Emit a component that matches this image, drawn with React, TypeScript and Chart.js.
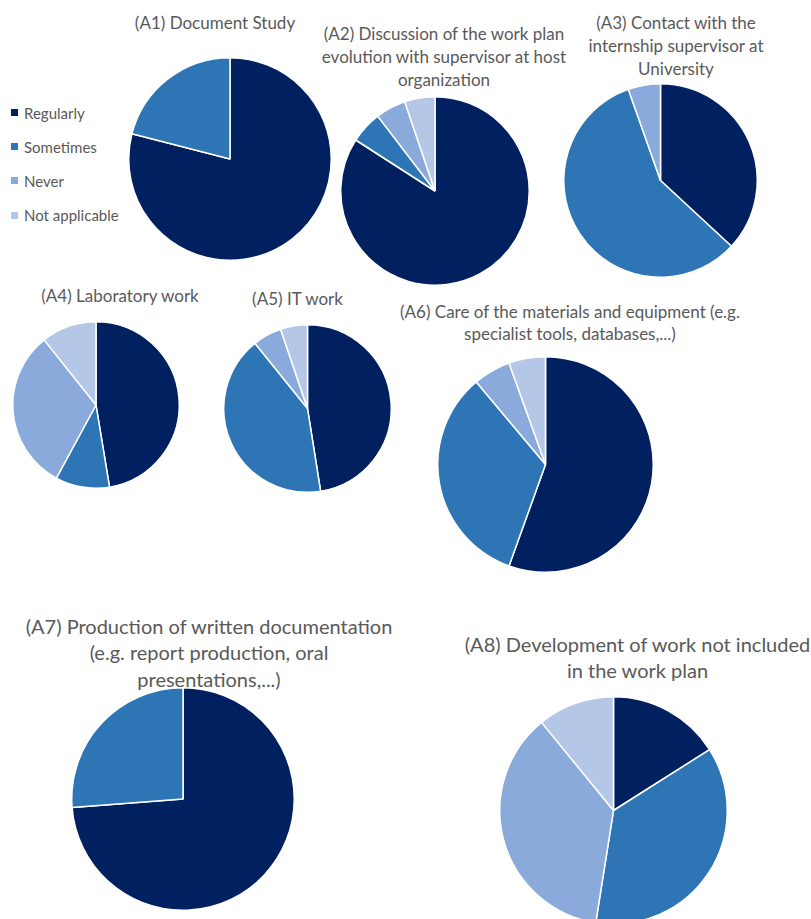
import React, { useEffect, useRef } from "react";
import { Chart, registerables } from "chart.js";

Chart.register(...registerables);

const categories = ["Regularly", "Sometimes", "Never", "Not applicable"];
const colors = ["#002060", "#2E75B6", "#8AAADC", "#B4C7E7"];

const a1Values = [79, 21, 0, 0];
const a2Values = [84.1, 5.5, 5.2, 5.2];
const a3Values = [36.9, 57.7, 5.4, 0];
const a4Values = [47.4, 10.5, 31.4, 10.7];
const a5Values = [47.5, 41.7, 5.6, 5.2];
const a6Values = [55.5, 33.4, 5.6, 5.5];
const a7Values = [73.8, 26.2, 0, 0];
const a8Values = [16.0, 36.5, 36.6, 10.9];

const a1Title = ["(A1) Document Study"];
const a2Title = ["(A2) Discussion of the work plan", "evolution with supervisor at host", "organization"];
const a3Title = ["(A3) Contact with the", "internship supervisor at", "University"];
const a4Title = ["(A4) Laboratory work"];
const a5Title = ["(A5) IT work"];
const a6Title = ["(A6) Care of the materials and equipment (e.g.", "specialist tools, databases,...)"];
const a7Title = ["(A7) Production of written documentation", "(e.g. report production, oral", "presentations,...)"];
const a8Title = ["(A8) Development of work not included", "in the work plan"];

const FONT = "Lato, 'Open Sans', sans-serif";
const TEXT_COLOR = "#595959";

function Pie({ values, cx, cy, r }: { values: number[]; cx: number; cy: number; r: number }) {
  const ref = useRef<HTMLCanvasElement | null>(null);
  const size = Math.round(2 * r + 2);
  useEffect(() => {
    if (!ref.current) return;
    const chart = new Chart(ref.current, {
      type: "pie",
      data: {
        labels: categories,
        datasets: [
          {
            data: values,
            backgroundColor: colors,
            borderColor: "#ffffff",
            borderWidth: 1.5,
            hoverOffset: 0,
          },
        ],
      },
      options: {
        responsive: false,
        animation: false,
        layout: { padding: 0 },
        plugins: {
          legend: { display: false },
          title: { display: false },
          tooltip: { enabled: false },
        },
      },
    });
    return () => chart.destroy();
  }, []);
  return (
    <canvas
      ref={ref}
      width={size}
      height={size}
      style={{ position: "absolute", left: cx - size / 2, top: cy - size / 2, width: size, height: size }}
    />
  );
}

function Title({ lines, cx, y, size, lh }: { lines: string[]; cx: number; y: number; size: number; lh: number }) {
  return (
    <div
      style={{
        position: "absolute",
        left: cx - 250,
        width: 500,
        top: y - lh / 2,
        textAlign: "center",
        fontFamily: FONT,
        fontSize: size,
        lineHeight: lh + "px",
        color: TEXT_COLOR,
        whiteSpace: "nowrap",
      }}
    >
      {lines.map((l, i) => (
        <div key={i}>{l}</div>
      ))}
    </div>
  );
}

function Legend() {
  const ys = [112.7, 146.7, 180.7, 215];
  return (
    <div>
      {categories.map((c, i) => (
        <div key={c}>
          <div
            style={{
              position: "absolute",
              left: 11,
              top: ys[i] - 3.5,
              width: 7,
              height: 7,
              background: colors[i],
            }}
          />
          <div
            style={{
              position: "absolute",
              left: 24,
              top: ys[i] - 10,
              height: 20,
              lineHeight: "20px",
              fontFamily: FONT,
              fontSize: 15,
              color: TEXT_COLOR,
              whiteSpace: "nowrap",
            }}
          >
            {c}
          </div>
        </div>
      ))}
    </div>
  );
}

export default function App() {
  return (
    <div
      style={{
        position: "fixed",
        left: 0,
        top: 0,
        width: 811,
        height: 919,
        overflow: "hidden",
        background: "#ffffff",
      }}
    >
      <Legend />
      <Title lines={a1Title} cx={215} y={22.7} size={17} lh={23} />
      <Title lines={a2Title} cx={444} y={33} size={17} lh={23} />
      <Title lines={a3Title} cx={676} y={22.7} size={17} lh={23} />
      <Title lines={a4Title} cx={120} y={295} size={17} lh={23} />
      <Title lines={a5Title} cx={297.5} y={298} size={17} lh={23} />
      <Title lines={a6Title} cx={570} y={312} size={17} lh={22} />
      <Title lines={a7Title} cx={209} y={626} size={20} lh={26.7} />
      <Title lines={a8Title} cx={637.5} y={644} size={20} lh={26} />

      <Pie values={a1Values} cx={230} cy={159} r={101} />
      <Pie values={a2Values} cx={435} cy={191} r={94} />
      <Pie values={a3Values} cx={660.5} cy={180.5} r={96.5} />
      <Pie values={a4Values} cx={96.2} cy={405} r={83} />
      <Pie values={a5Values} cx={307.5} cy={408} r={83.3} />
      <Pie values={a6Values} cx={545.5} cy={464} r={107.3} />
      <Pie values={a7Values} cx={183.3} cy={799} r={111} />
      <Pie values={a8Values} cx={613.7} cy={810} r={113.7} />
    </div>
  );
}
